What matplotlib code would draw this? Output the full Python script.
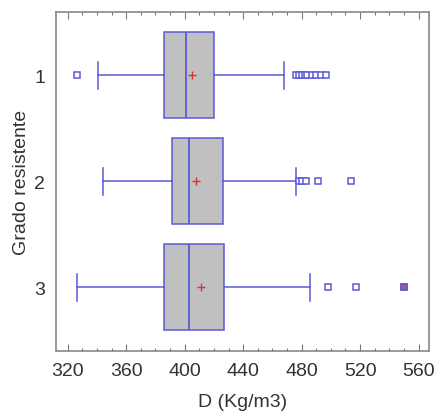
import matplotlib
matplotlib.use('Agg')
import matplotlib.pyplot as plt
from matplotlib.ticker import MultipleLocator

plt.rcParams['font.family'] = ['Liberation Sans', 'DejaVu Sans']

# estimated box statistics per group (Kg/m3)
groups = ['1', '2', '3']
whislo = [341, 344, 326]
q1 = [386, 391, 386]
med = [401, 403, 403]
q3 = [420, 426, 427]
whishi = [468, 476, 486]
means = [405, 408, 411]
fliers = [
    [326, 476, 478, 480, 482, 484, 487, 490, 493, 497],
    [478, 480, 483, 491, 514],
    [498, 517, 550],
]
# outlier overlapping something red in the original
marked = [(3, 550)]

blue = '#5a5ad8'
stats = []
for i in range(len(groups)):
    stats.append(dict(label=groups[i], whislo=whislo[i], q1=q1[i], med=med[i],
                      q3=q3[i], whishi=whishi[i], mean=means[i], fliers=fliers[i]))

fig = plt.figure(figsize=(4.38, 4.14), dpi=100)
ax = fig.add_axes([0.128, 0.150, 0.851, 0.819])

ax.bxp(stats, positions=[1, 2, 3], vert=False, widths=0.81, patch_artist=True,
       showmeans=True, showcaps=True,
       boxprops=dict(facecolor='#c0c0c0', edgecolor=blue, linewidth=1.1),
       medianprops=dict(color=blue, linewidth=1.3),
       whiskerprops=dict(color=blue, linewidth=1.1),
       capprops=dict(color=blue, linewidth=1.1),
       capwidths=0.26,
       flierprops=dict(marker='s', markersize=5, markerfacecolor='white',
                       markeredgecolor=blue, markeredgewidth=1.1, linestyle='none'),
       meanprops=dict(marker='+', markersize=5.5, markeredgecolor='#e03030',
                      markeredgewidth=1.0))

for pos, val in marked:
    ax.plot(val, pos, marker='s', markersize=5, markerfacecolor='#b8508a',
            markeredgecolor=blue, markeredgewidth=1.1, linestyle='none')

ax.set_xlim(312, 567)
ax.set_ylim(3.6, 0.4)
ax.xaxis.set_major_locator(MultipleLocator(40))
ax.xaxis.set_minor_locator(MultipleLocator(10))
ax.set_yticks([1, 2, 3])
ax.set_yticklabels(groups)

ax.tick_params(axis='x', which='major', direction='in', length=5, width=0.8,
               color='#777777', top=True, labelsize=14, labelcolor='#333333', pad=8)
ax.tick_params(axis='x', which='minor', direction='in', length=2.5, width=0.8,
               color='#777777', top=True)
ax.tick_params(axis='y', length=0, labelsize=14, labelcolor='#333333', pad=8)

for s in ax.spines.values():
    s.set_color('#888888')
    s.set_linewidth(1.2)

ax.set_xlabel('D (Kg/m3)', fontsize=14, color='#333333', labelpad=10)
ax.set_ylabel('Grado resistente', fontsize=14, color='#333333', labelpad=3)

fig.savefig('out.png', dpi=100)
